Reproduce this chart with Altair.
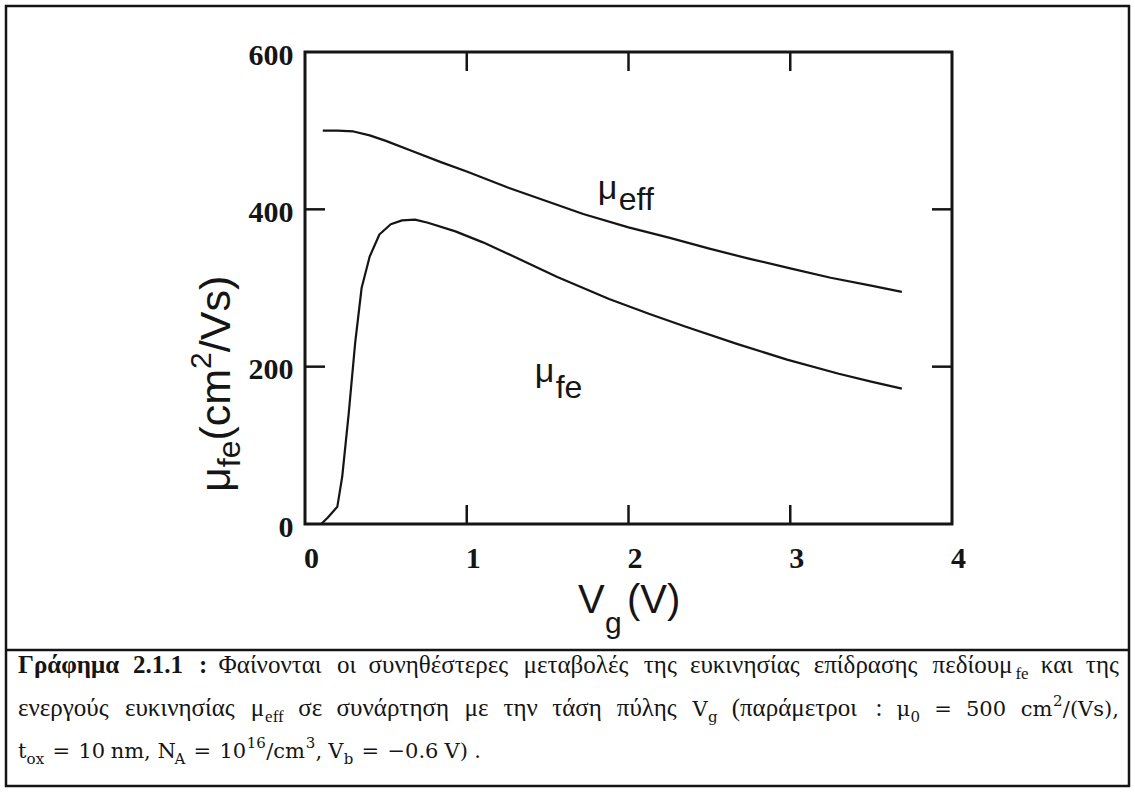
import altair as alt
import pandas as pd

# ---------------- data ----------------
vg_eff = [0.11, 0.20, 0.30, 0.40, 0.50, 0.65, 0.84, 1.00, 1.25, 1.50, 1.72, 2.00,
          2.25, 2.50, 2.75, 3.00, 3.25, 3.50, 3.69]
mu_eff = [500, 500, 499, 494, 487, 475, 460, 448, 428, 410, 394, 377,
          364, 350, 337, 325, 313, 303, 295]
vg_fe = [0.10, 0.14, 0.20, 0.23, 0.27, 0.31, 0.35, 0.40, 0.46, 0.53, 0.60, 0.68,
         0.76, 0.93, 1.10, 1.25, 1.56, 1.88, 2.13, 2.35, 2.67, 2.98, 3.30, 3.50, 3.69]
mu_fe = [0, 8, 22, 60, 140, 230, 300, 340, 368, 381, 386, 387,
         383, 372, 358, 344, 314, 286, 267, 251, 229, 209, 191, 181, 172]
x_tick_values = [0, 1, 2, 3, 4]
y_tick_values = [0, 200, 400, 600]
inner_x_ticks = [1, 2, 3]
inner_y_ticks = [200, 400]

# curve labels (position in data units)
label_eff = {"Vg": 1.81, "mu": 413}
label_eff_sub = {"Vg": 1.94, "mu": 399}
label_fe = {"Vg": 1.42, "mu": 180}
label_fe_sub = {"Vg": 1.55, "mu": 160}

# ---------------- layout ----------------
INK = "#151515"
W, H = 647, 472          # plot area
OX, OY = 305, 52         # plot origin on the page
SANS = "Liberation Sans"
SERIF = "Liberation Serif"
MATH = "DejaVu Serif"

TIMES = {' ': 0.25, '.': 0.25, ',': 0.25, ':': 0.278, '(': 0.333, ')': 0.333, '/': 0.278,
         '=': 0.564, '−': 0.564, 'a': 0.444, 'b': 0.5, 'c': 0.444, 'd': 0.5, 'e': 0.444,
         'f': 0.333, 'g': 0.5, 'h': 0.5, 'i': 0.278, 'l': 0.278, 'm': 0.778, 'n': 0.5,
         'o': 0.5, 'p': 0.5, 'r': 0.333, 's': 0.389, 't': 0.278, 'u': 0.5, 'v': 0.5,
         'x': 0.5, 'y': 0.5, 'Γ': 0.578, 'Φ': 0.76, 'V': 0.722, 'N': 0.722, 'A': 0.722,
         'α': 0.53, 'ά': 0.53, 'β': 0.5, 'γ': 0.45, 'δ': 0.48, 'ε': 0.42, 'έ': 0.42,
         'η': 0.5, 'ή': 0.5, 'θ': 0.49, 'ι': 0.27, 'ί': 0.27, 'κ': 0.5, 'λ': 0.48,
         'μ': 0.56, 'ν': 0.45, 'ο': 0.5, 'ό': 0.5, 'π': 0.53, 'ρ': 0.5, 'σ': 0.54,
         'ς': 0.42, 'τ': 0.42, 'υ': 0.49, 'ύ': 0.49, 'φ': 0.62, 'χ': 0.48, 'ω': 0.66}
DJV = {' ': 0.318, '.': 0.318, ',': 0.318, ':': 0.337, '/': 0.337, '(': 0.39, ')': 0.39,
       '=': 0.838, '−': 0.838, 'a': 0.596, 'b': 0.64, 'c': 0.56, 'd': 0.64, 'e': 0.592,
       'f': 0.37, 'g': 0.64, 'm': 0.948, 'n': 0.644, 'o': 0.602, 's': 0.513, 't': 0.402,
       'x': 0.564, 'V': 0.722, 'N': 0.79, 'A': 0.722, 'μ': 0.66}

STYLES = {
    "b": (SERIF, 25, "bold", 0),
    "t": (SERIF, 25, "normal", 0),
    "sub": (SERIF, 17, "normal", 6),
    "m": (MATH, 21, "normal", 0),
    "msub": (MATH, 15, "normal", 6),
    "msup": (MATH, 15, "normal", -10),
}


def run_width(text, style):
    font, size, weight, _ = STYLES[style]
    if font == MATH:
        w = sum(DJV.get(ch, 0.636 if ch.isdigit() else 0.6) for ch in text)
    else:
        w = sum(TIMES.get(ch, 0.5) for ch in text)
    if weight == "bold":
        w *= 1.06
    return w * size * 1.02


def layout(tokens, x0, baseline, x1=None, gaps=None):
    widths = [sum(run_width(t, s) for t, s in tok) for tok in tokens]
    if x1 is not None:
        g = (x1 - x0 - sum(widths)) / (len(tokens) - 1)
        gaps = [g] * (len(tokens) - 1)
    gaps = list(gaps) + [0]
    pieces = []
    x = x0
    for tok, w, g in zip(tokens, widths, gaps):
        cx = x
        for t, s in tok:
            pieces.append((t, s, cx, baseline + STYLES[s][3]))
            cx += run_width(t, s)
        x += w + g
    return pieces


line1 = [[("Γράφημα", "b")], [("2.1.1", "b")], [(":", "b")], [("Φαίνονται", "t")],
         [("οι", "t")], [("συνηθέστερες", "t")], [("μεταβολές", "t")], [("της", "t")],
         [("ευκινησίας", "t")], [("επίδρασης", "t")], [("πεδίουμ", "t"), ("fe", "sub")],
         [("και", "t")], [("της", "t")]]
line2 = [[("ενεργούς", "t")], [("ευκινησίας", "t")], [("μ", "t"), ("eff", "sub")],
         [("σε", "t")], [("συνάρτηση", "t")], [("με", "t")], [("την", "t")], [("τάση", "t")],
         [("πύλης", "t")], [("V", "m"), ("g", "msub")], [("(παράμετροι", "t")], [(":", "t")],
         [("μ", "m"), ("0", "msub")], [("=", "m")], [("500", "m")],
         [("cm", "m"), ("2", "msup"), ("/(Vs),", "m")]]
line3 = [[("t", "m"), ("ox", "msub")], [("=", "m")], [("10", "m")], [("nm,", "m")],
         [("N", "m"), ("A", "msub")], [("=", "m")],
         [("10", "m"), ("16", "msup"), ("/cm", "m"), ("3", "msup"), (",", "m")],
         [("V", "m"), ("b", "msub")], [("=", "m")], [("−0.6", "m")], [("V)", "m")], [(".", "m")]]
line3_gaps = [8, 8, 5, 6, 8, 8, 6, 8, 8, 5, 6]

caption_pieces = (layout(line1, 18, 673, x1=1120)
                  + layout(line2, 18, 716, x1=1120)
                  + layout(line3, 18, 758, gaps=line3_gaps))


def text_layer(text, font, size, weight, x_abs, y_abs, angle=0):
    kw = dict(font=font, fontSize=size, fontWeight=weight, align="left",
              baseline="alphabetic", color=INK)
    if angle:
        kw["angle"] = angle
    return alt.Chart(pd.DataFrame({"t": [text]})).mark_text(**kw).encode(
        x=alt.value(x_abs - OX), y=alt.value(y_abs - OY), text="t:N")


layers = []

# ---------------- curves ----------------
curves = pd.DataFrame({
    "Vg": vg_eff + vg_fe,
    "mu": mu_eff + mu_fe,
    "series": ["eff"] * len(vg_eff) + ["fe"] * len(vg_fe),
})
xs = alt.Scale(domain=[0, 4], nice=False, zero=False)
ys = alt.Scale(domain=[0, 600], nice=False)

lines = alt.Chart(curves).mark_line(color=INK, strokeWidth=2.2, strokeJoin="round").encode(
    x=alt.X("Vg:Q", scale=xs, axis=alt.Axis(
        values=x_tick_values, ticks=False, domain=False, grid=False, title=None,
        labelFont=SERIF, labelFontWeight="bold", labelFontSize=30,
        labelColor=INK, labelPadding=19, labelOffset=6, labelFlush=False, format="d")),
    y=alt.Y("mu:Q", scale=ys, axis=alt.Axis(
        values=y_tick_values, ticks=False, domain=False, grid=False, title=None,
        labelFont=SERIF, labelFontWeight="bold", labelFontSize=30,
        labelColor=INK, labelPadding=12, labelOffset=3, labelFlush=False, format="d")),
    detail="series:N",
)
layers.append(lines)

# ---------------- inward ticks ----------------
xt = pd.DataFrame({"Vg": inner_x_ticks})
yt = pd.DataFrame({"mu": inner_y_ticks})
tick_style = dict(color=INK, strokeWidth=2.5)
layers.append(alt.Chart(xt).mark_rule(**tick_style).encode(
    x="Vg:Q", y=alt.value(H), y2=alt.value(H - 19)))
layers.append(alt.Chart(xt).mark_rule(**tick_style).encode(
    x="Vg:Q", y=alt.value(0), y2=alt.value(19)))
layers.append(alt.Chart(yt).mark_rule(**tick_style).encode(
    y="mu:Q", x=alt.value(0), x2=alt.value(20)))
layers.append(alt.Chart(yt).mark_rule(**tick_style).encode(
    y="mu:Q", x=alt.value(W - 20), x2=alt.value(W)))


# ---------------- curve labels ----------------
def data_label(pos, text, size):
    return alt.Chart(pd.DataFrame({"Vg": [pos["Vg"]], "mu": [pos["mu"]], "t": [text]})).mark_text(
        font=SANS, fontSize=size, align="left", baseline="alphabetic", color=INK
    ).encode(x="Vg:Q", y="mu:Q", text="t:N")


layers.append(data_label(label_eff, "μ", 34))
layers.append(data_label(label_eff_sub, "eff", 32))
layers.append(data_label(label_fe, "μ", 34))
layers.append(data_label(label_fe_sub, "fe", 32))

# ---------------- axis titles ----------------
layers.append(text_layer("V", SANS, 40, "normal", 578, 613))
layers.append(text_layer("g", SANS, 30, "normal", 605, 633))
layers.append(text_layer("(V)", SANS, 40, "normal", 627, 613))

# y title, rotated, reading upward
SANSW = {'μ': 0.576, 'f': 0.278, 'e': 0.556, '(': 0.333, 'c': 0.5, 'm': 0.833,
         '2': 0.556, '/': 0.278, 'V': 0.667, 's': 0.5, ')': 0.333}
ytitle_runs = [("μ", 43, 0), ("fe", 32, 10), ("(cm", 43, 0), ("2", 30, -19), ("/Vs)", 43, 0)]
yb, ystart = 230, 492
for t, size, off in ytitle_runs:
    layers.append(text_layer(t, SANS, size, "normal", yb + off, ystart, angle=270))
    ystart -= sum(SANSW[c] for c in t) * size

# ---------------- caption ----------------
for t, s, px, py in caption_pieces:
    font, size, weight, _ = STYLES[s]
    layers.append(text_layer(t, font, size, weight, px, py))


# ---------------- outer box ----------------
def hrule(y_abs, x0_abs, x1_abs):
    return alt.Chart(pd.DataFrame({"k": [0]})).mark_rule(color=INK, strokeWidth=2.5).encode(
        x=alt.value(x0_abs - OX), x2=alt.value(x1_abs - OX), y=alt.value(y_abs - OY))


def vrule(x_abs, y0_abs, y1_abs):
    return alt.Chart(pd.DataFrame({"k": [0]})).mark_rule(color=INK, strokeWidth=2.5).encode(
        y=alt.value(y0_abs - OY), y2=alt.value(y1_abs - OY), x=alt.value(x_abs - OX))


layers.append(hrule(6, 5, 1130))
layers.append(hrule(650, 5, 1130))
layers.append(hrule(786, 5, 1130))
layers.append(vrule(6, 5, 787))
layers.append(vrule(1129, 5, 787))

chart = alt.layer(*layers).properties(
    width=W, height=H,
    padding={"left": OX, "top": OY, "right": 1135 - OX - W, "bottom": 792 - OY - H},
    autosize=alt.AutoSizeParams(type="none"),
    background="white",
).configure_view(stroke=INK, strokeWidth=3)

chart.save("out.html", embed_options={"renderer": "svg", "actions": False})
